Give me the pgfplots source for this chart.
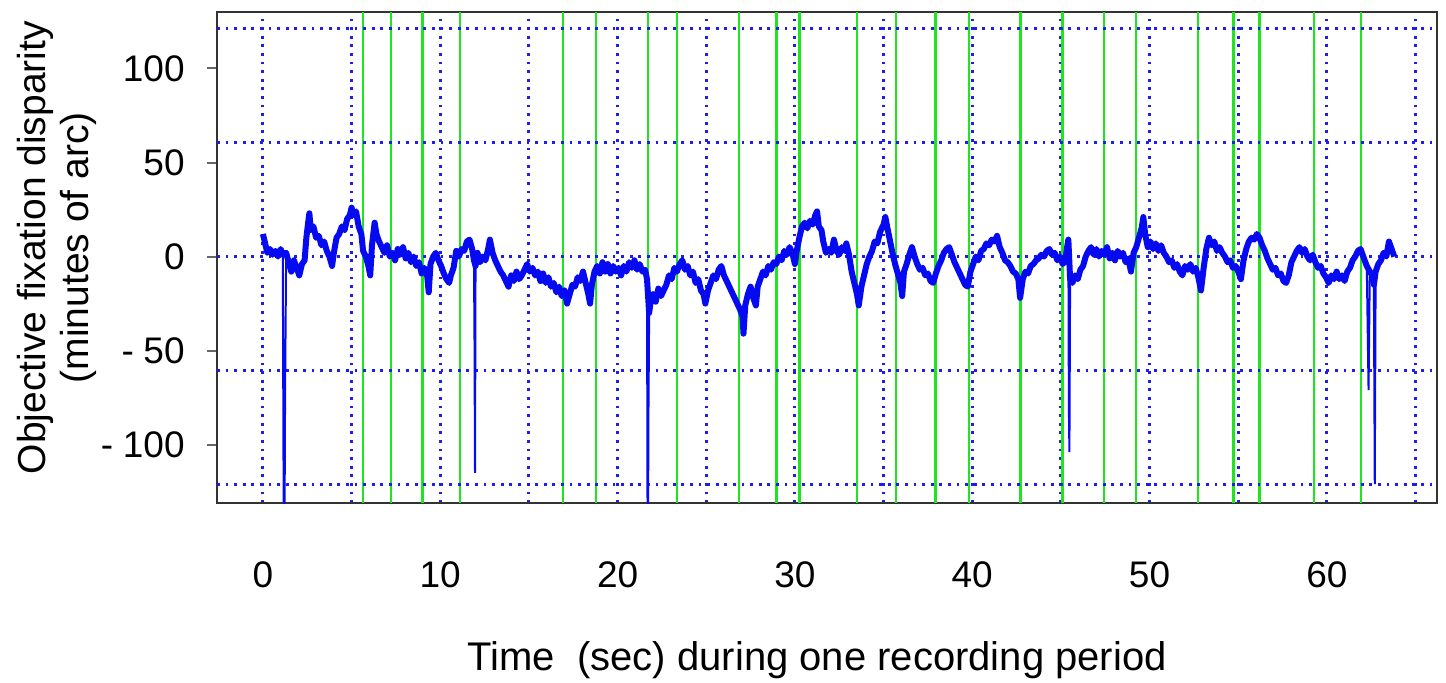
\documentclass[border=0pt]{standalone}
\usepackage{pgfplots}
\pgfplotsset{compat=1.18}
\usepackage{fontspec}
\setmainfont{Liberation Sans}
\definecolor{trace}{RGB}{5,10,240}
\definecolor{gridblue}{RGB}{30,30,235}
\definecolor{vgreen}{RGB}{30,230,30}
\begin{document}
\begin{tikzpicture}
\path[use as bounding box] (0,0) rectangle (723pt,341pt);
\begin{axis}[
  at={(108.5pt,89.5pt)}, anchor=south west,
  scale only axis, width=610pt, height=245.5pt,
  xmin=-2.59, xmax=66.21, ymin=-131, ymax=130,
  axis line style={black!80, line width=1.4pt},
  tick align=outside,
  major tick length=5pt, minor tick length=0pt,
  ytick pos=left,
  xtick={0,10,...,60}, xticklabels={0,10,20,30,40,50,60},
  minor xtick={5,15,...,65},
  xmajorgrids, xminorgrids,
  xtick style={draw=none},
  major grid style={gridblue, line width=1.5pt, dash pattern=on 1.4pt off 2.9pt},
  minor grid style={gridblue, line width=1.5pt, dash pattern=on 1.4pt off 2.9pt},
  ytick={-100,-50,0,50,100}, yticklabels={-\hspace{0.26em}100,-\hspace{0.26em}50,0,50,100},
  ytick style={black!60, line width=1pt},
  extra y ticks={-121,-60.5,0,60.5,121}, extra y tick labels={},
  extra y tick style={ymajorgrids=true, major tick length=0pt},
  extra x ticks={5.64,7.22,8.99,11.11,16.92,18.78,21.71,23.35,26.85,28.96,30.26,33.50,35.70,37.93,39.81,42.73,45.09,47.43,49.24,52.72,54.74,56.21,59.28,61.93},
  extra x tick labels={},
  extra x tick style={xmajorgrids=true, major tick length=0pt, major grid style={vgreen, solid, line width=1.2pt}},
  tick label style={font=\fontsize{18.5}{20}\selectfont},
  xticklabel style={anchor=center, yshift=-31pt},
  yticklabel style={anchor=east, inner sep=0pt, xshift=-11pt},
  xlabel={Time\ \ (sec) during one recording period},
  xlabel style={at={(axis description cs:0.492,-0.32)}, anchor=center, font=\fontsize{20}{22}\selectfont},
  ylabel={Objective fixation disparity\\(minutes of arc)},
  ylabel style={at={(axis description cs:-0.1316,0.52)}, anchor=center, align=center, font=\fontsize{19.5}{21.5}\selectfont},
]
\addplot[trace, line width=3pt, line join=round] table {
t v
0.00 12
0.10 8
0.25 2
0.40 4
0.55 1
0.70 3
0.85 0
1.00 4
1.12 1
1.31 2
1.45 -3
1.60 -8
1.75 -2
1.90 -6
2.05 -10
2.20 -4
2.35 -2
2.45 10
2.55 18
2.62 23
2.70 14
2.85 16
3.00 10
3.15 11
3.30 6
3.45 8
3.60 3
3.75 0
3.90 -5
4.00 2
4.15 10
4.30 12
4.45 16
4.60 14
4.75 20
4.90 22
5.00 26
5.10 22
5.25 24
5.40 16
5.55 12
5.65 3
5.80 0
5.95 -5
6.05 -10
6.15 6
6.30 18
6.40 12
6.55 8
6.70 5
6.85 2
7.00 6
7.15 0
7.30 2
7.45 -2
7.60 4
7.75 1
7.90 5
8.05 -1
8.20 2
8.35 -3
8.50 0
8.65 -5
8.80 -3
8.95 -9
9.10 -6
9.25 -9
9.35 -19
9.45 -4
9.60 0
9.75 2
9.90 -2
10.05 -5
10.20 -9
10.35 -12
10.50 -14
10.60 -10
10.75 -6
10.90 3
11.05 0
11.20 4
11.35 3
11.50 8
11.65 9
11.80 4
11.90 -2
11.99 -5
12.10 2
12.25 -3
12.40 0
12.55 -2
12.70 4
12.80 9
12.95 2
13.10 -2
13.25 -5
13.40 -8
13.55 -10
13.70 -13
13.85 -16
14.00 -10
14.15 -13
14.30 -8
14.45 -12
14.60 -10
14.75 -7
14.90 -4
15.05 -8
15.20 -6
15.35 -10
15.50 -8
15.65 -13
15.80 -9
15.95 -14
16.10 -11
16.25 -16
16.40 -14
16.55 -19
16.70 -16
16.85 -21
17.00 -18
17.15 -25
17.30 -20
17.45 -15
17.60 -16
17.75 -11
17.90 -13
18.05 -8
18.20 -14
18.35 -20
18.45 -25
18.55 -15
18.70 -8
18.85 -5
19.00 -9
19.15 -3
19.30 -8
19.45 -4
19.60 -9
19.75 -5
19.90 -8
20.05 -6
20.20 -10
20.35 -5
20.50 -8
20.65 -3
20.80 -6
20.95 -2
21.10 -7
21.25 -4
21.40 -8
21.55 -7
21.66 -12
21.78 -30
21.85 -25
22.00 -20
22.15 -24
22.30 -17
22.45 -21
22.60 -18
22.75 -15
22.90 -10
23.05 -12
23.20 -6
23.35 -8
23.50 -4
23.65 -2
23.80 -7
23.95 -5
24.10 -10
24.25 -8
24.40 -14
24.55 -12
24.70 -18
24.85 -20
24.95 -25
25.10 -18
25.25 -14
25.40 -10
25.55 -12
25.70 -7
25.85 -5
26.00 -10
26.15 -13
26.30 -16
26.45 -19
26.60 -22
26.75 -25
26.90 -28
27.05 -32
27.10 -41
27.20 -26
27.35 -20
27.50 -16
27.65 -22
27.80 -26
27.90 -16
28.05 -12
28.20 -8
28.35 -10
28.50 -5
28.65 -7
28.80 -3
28.95 -4
29.10 0
29.25 -2
29.40 3
29.55 1
29.70 5
29.85 2
30.00 -4
30.10 3
30.25 10
30.40 16
30.55 18
30.70 15
30.85 19
31.00 17
31.15 22
31.25 24
31.35 16
31.50 14
31.60 8
31.75 2
31.90 4
32.05 2
32.20 9
32.35 3
32.50 1
32.65 5
32.80 3
32.90 7
33.05 1
33.20 -8
33.35 -14
33.50 -20
33.60 -26
33.75 -16
33.90 -10
34.05 -4
34.20 0
34.35 3
34.50 8
34.65 7
34.80 13
35.00 17
35.10 21
35.20 16
35.35 9
35.50 2
35.65 -4
35.80 -9
35.95 -14
36.05 -21
36.15 -8
36.30 -4
36.45 1
36.60 5
36.75 0
36.90 -4
37.05 -7
37.20 -6
37.35 -10
37.50 -9
37.65 -13
37.80 -14
37.95 -9
38.10 -5
38.25 -2
38.40 2
38.55 4
38.70 5
38.85 1
39.00 -3
39.15 -6
39.30 -9
39.45 -12
39.60 -15
39.75 -16
39.90 -8
40.05 -4
40.20 0
40.35 -2
40.50 3
40.65 4
40.80 7
40.95 6
41.10 9
41.25 8
41.40 11
41.55 5
41.70 2
41.85 -2
42.00 -3
42.15 -5
42.30 -8
42.45 -9
42.60 -12
42.70 -22
42.85 -12
43.00 -8
43.15 -9
43.30 -5
43.45 -4
43.60 -2
43.75 -1
43.90 1
44.05 0
44.20 3
44.35 4
44.50 1
44.65 2
44.80 -2
44.95 0
45.10 -4
45.25 -2
45.35 5
45.42 9
45.52 -12
45.65 -14
45.80 -10
45.95 -12
46.10 -7
46.25 -5
46.40 0
46.55 3
46.70 5
46.85 1
47.00 4
47.15 0
47.30 3
47.45 1
47.60 5
47.75 -1
47.90 2
48.05 -2
48.20 3
48.35 0
48.50 2
48.65 -3
48.80 -1
48.95 -8
49.10 2
49.25 5
49.40 10
49.55 15
49.65 21
49.75 12
49.90 5
50.05 8
50.20 4
50.35 7
50.50 3
50.65 6
50.80 2
50.95 0
51.10 -3
51.25 -2
51.40 -6
51.55 -4
51.70 -8
51.85 -10
52.00 -5
52.15 -7
52.30 -4
52.45 -8
52.60 -6
52.75 -11
52.90 -18
53.05 -6
53.20 4
53.35 10
53.50 6
53.65 8
53.80 3
53.95 5
54.10 2
54.25 0
54.40 -3
54.55 -2
54.70 -6
54.85 -5
55.00 -8
55.15 -12
55.30 -2
55.45 4
55.60 8
55.75 10
55.90 9
56.05 12
56.20 10
56.35 6
56.50 3
56.65 -1
56.80 -4
56.95 -7
57.10 -6
57.25 -10
57.40 -9
57.55 -13
57.70 -14
57.85 -10
58.00 -3
58.15 0
58.30 3
58.45 5
58.60 2
58.75 4
58.90 0
59.05 -2
59.20 1
59.35 -3
59.50 -6
59.65 -5
59.80 -9
59.95 -11
60.10 -14
60.25 -10
60.40 -12
60.55 -8
60.70 -12
60.85 -10
61.00 -13
61.15 -8
61.30 -6
61.45 -2
61.60 0
61.75 3
61.90 4
62.05 0
62.25 -5
62.42 -8
62.55 -10
62.65 -15
62.75 -8
62.90 -4
63.05 -2
63.20 2
63.35 0
63.50 8
63.65 4
63.80 0
};
\addplot[trace, line width=1pt, line join=round] coordinates {(1.12,1) (1.16,-108) (1.18,-140) (1.22,-140) (1.25,-72) (1.31,2)};
\addplot[trace, line width=1pt] coordinates {(11.90,-2) (11.93,-41) (11.96,-115) (11.99,-5)};
\addplot[trace, line width=1pt] coordinates {(21.66,-12) (21.69,-140) (21.72,-140) (21.74,-85) (21.78,-30)};
\addplot[trace, line width=1pt] coordinates {(45.42,9) (45.45,-80) (45.48,-104) (45.52,-12)};
\addplot[trace, line width=1pt] coordinates {(62.25,-5) (62.35,-71) (62.42,-8)};
\addplot[trace, line width=1pt] coordinates {(62.65,-15) (62.70,-121) (62.75,-8)};
\end{axis}
\end{tikzpicture}
\end{document}
